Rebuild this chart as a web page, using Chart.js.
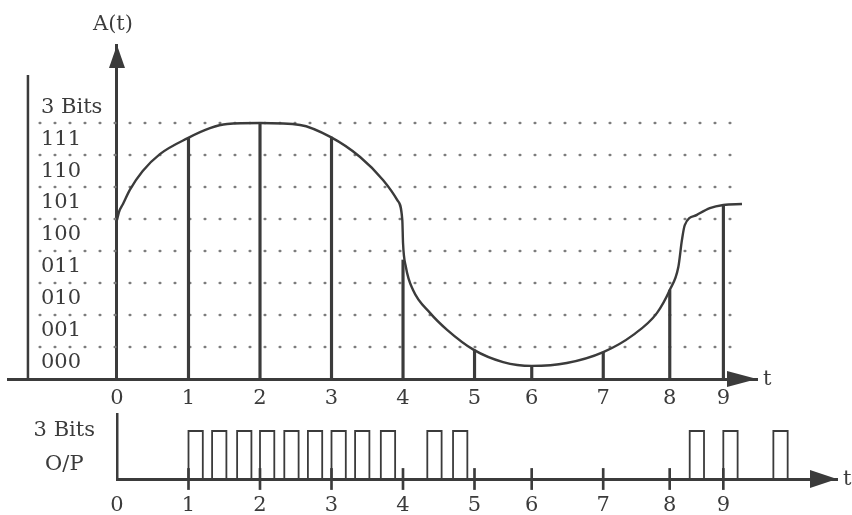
<!DOCTYPE html>
<html>
<head>
<meta charset="utf-8">
<title>3-bit PCM</title>
<script src="https://cdn.jsdelivr.net/npm/chart.js@4.4.1/dist/chart.umd.min.js"></script>
<style>
    html, body { margin: 0; padding: 0; background: #fff; }
    #wrap { position: relative; width: 852px; height: 515px; }
    #top { position: absolute; left: 0; top: 0; width: 852px; height: 420px; }
    #bottom { position: absolute; left: 0; top: 405px; width: 852px; height: 110px; }
</style>
</head>
<body>
<div id="wrap">
    <div id="top"><canvas id="signalChart"></canvas></div>
    <div id="bottom"><canvas id="pulseChart"></canvas></div>
</div>
<script>
// Sampling instants (t, as drawn in the figure) and their labels
const tickPos = [0, 1, 2, 3, 4, 5, 5.8, 6.8, 7.73, 8.48];
const tickLabels = ['0', '1', '2', '3', '4', '5', '6', '7', '8', '9'];

// Quantisation levels (dotted lines) and the codes written between them
const levels = [1, 2, 3, 4, 5, 6, 7, 8];
const codePos = [0.5, 1.5, 2.5, 3.5, 4.5, 5.5, 6.5, 7.5, 8.5];
const codeLabels = ['000', '001', '010', '011', '100', '101', '110', '111', '3 Bits'];

// Analog signal A(t)
const curveT = [0, 0.028, 0.084, 0.18, 0.36, 0.60, 0.99, 1.30, 1.54, 2.00, 2.56, 2.99, 3.40, 3.72, 3.92, 3.99, 4.00,
    4.04, 4.14, 4.38, 4.62, 4.99, 5.40, 5.80, 6.29, 6.80, 7.22, 7.55, 7.73, 7.85, 7.90, 7.94, 8.11, 8.29, 8.48, 8.74];
const curveA = [4.97, 5.22, 5.47, 5.91, 6.50, 7.03, 7.53, 7.84, 7.97, 8.00, 7.94, 7.56, 6.94, 6.22, 5.59, 4.97, 4.25,
    3.50, 2.78, 2.06, 1.53, 0.91, 0.53, 0.41, 0.50, 0.84, 1.38, 2.06, 2.78, 3.50, 4.34, 4.81, 5.13, 5.34, 5.44, 5.47];

// Sampled amplitudes at t = 1..9
const sampleT = tickPos.slice(1);
const sampleA = [7.53, 8.00, 7.56, 3.72, 0.91, 0.41, 0.84, 2.78, 5.44];

// 3 bit output: start time of every '1' pulse
const pulseStart = [1.0, 1.33, 1.68, 2.0, 2.34, 2.67, 3.0, 3.33, 3.69, 4.34, 4.7, 8.01, 8.48, 9.18];
const pulseWidth = 0.2;
const outLabelPos = [1, 0.3];
const outLabels = ['3 Bits', 'O/P'];

const ink = '#3b3b3b';
const dotColor = '#7c7c7c';
Chart.defaults.font.family = '"DejaVu Serif", serif';
Chart.defaults.font.size = 21;
Chart.defaults.color = ink;

// extents of the drawing, in axis units
const gridFrom = -1.08, gridTo = 8.71;
const leftBarT = -1.245, leftBarTop = 9.5;

// Arrow heads and axis names
const arrows = {
    id: 'arrows',
    afterDraw(chart, args, opts) {
        const ctx = chart.ctx, area = chart.chartArea;
        const y0 = chart.scales.y.getPixelForValue(0);
        const x0 = chart.scales.x.getPixelForValue(0);
        ctx.save();
        ctx.fillStyle = ink;
        ctx.beginPath();
        ctx.moveTo(area.right, y0);
        ctx.lineTo(area.right - opts.len, y0 - opts.half);
        ctx.lineTo(area.right - opts.len, y0 + opts.half);
        ctx.closePath();
        ctx.fill();
        ctx.font = '21px "DejaVu Serif"';
        ctx.textBaseline = 'middle';
        ctx.textAlign = 'left';
        ctx.fillText('t', area.right + 6, y0 + 1);
        if (opts.yTitle) {
            ctx.beginPath();
            ctx.moveTo(x0, area.top);
            ctx.lineTo(x0 - 8, area.top + 23);
            ctx.lineTo(x0 + 8, area.top + 23);
            ctx.closePath();
            ctx.fill();
            ctx.textAlign = 'center';
            ctx.fillText(opts.yTitle, x0 - 4, area.top - 20);
        }
        ctx.restore();
    }
};

// keep the label axis from eating into the plot height
function flatAxis(width) {
    return s => {
        s.width = width;
        s.paddingTop = 0;
        s.paddingBottom = 0;
    };
}

function lineSet(points, width, extra) {
    return Object.assign({
        type: 'line',
        data: points,
        borderColor: ink,
        borderWidth: width,
        pointRadius: 0,
        tension: 0,
        fill: false
    }, extra || {});
}

// Upper chart: A(t) with sample lines
const signalDatasets = [
    lineSet(curveT.map((t, i) => ({ x: t, y: curveA[i] })), 2.4, { cubicInterpolationMode: 'monotone' }),
    {
        type: 'bar',
        data: sampleT.map((t, i) => ({ x: t, y: sampleA[i] })),
        backgroundColor: ink,
        barThickness: 2.5
    },
    lineSet([{ x: leftBarT, y: 0 }, { x: leftBarT, y: leftBarTop }], 2.5)
];
levels.forEach(l => {
    signalDatasets.push(lineSet([{ x: gridFrom, y: l }, { x: gridTo, y: l }], 2.6, {
        borderColor: dotColor,
        borderDash: [0.5, 14.5],
        borderCapStyle: 'round'
    }));
});

new Chart(document.getElementById('signalChart'), {
    type: 'line',
    data: { datasets: signalDatasets },
    plugins: [arrows],
    options: {
        responsive: true,
        maintainAspectRatio: false,
        animation: false,
        layout: { padding: { left: 8, right: 95, top: 45, bottom: 41 } },
        plugins: {
            legend: { display: false },
            tooltip: { enabled: false },
            arrows: { len: 30, half: 8, yTitle: 'A(t)' }
        },
        scales: {
            x: {
                type: 'linear', min: -1.524, max: 8.95, offset: false,
                position: { y: 0 },
                afterBuildTicks: ax => { ax.ticks = tickPos.map(v => ({ value: v })); },
                ticks: { autoSkip: false, maxRotation: 0, padding: 7, callback: (v, i) => tickLabels[i] },
                grid: { display: false, drawTicks: false },
                border: { display: true, color: ink, width: 3 }
            },
            y: {
                type: 'linear', min: 0, max: 10.44, position: 'left',
                afterFit: flatAxis(0),
                afterBuildTicks: ax => { ax.ticks = codePos.map(v => ({ value: v })); },
                ticks: { mirror: true, padding: 33, autoSkip: false, callback: (v, i) => codeLabels[i] },
                grid: { display: false, drawTicks: false },
                border: { display: false }
            },
            yA: {
                axis: 'y', type: 'linear', position: { x: 0 },
                ticks: { display: false },
                grid: { display: false, drawTicks: false },
                border: { display: true, color: ink, width: 3 }
            }
        }
    }
});

// Lower chart: 3 bit output pulse train
const pulsePoints = [];
pulseStart.forEach(s => {
    pulsePoints.push({ x: s, y: 0 }, { x: s, y: 1 }, { x: s + pulseWidth, y: 1 }, { x: s + pulseWidth, y: 0 });
});

new Chart(document.getElementById('pulseChart'), {
    type: 'line',
    data: {
        datasets: [
            lineSet(pulsePoints, 1.8),
            {
                type: 'bar',
                data: tickPos.slice(1).map(t => ({ x: t, y: [-0.22, 0.22] })),
                backgroundColor: ink,
                barThickness: 2,
                clip: false
            }
        ]
    },
    plugins: [arrows],
    options: {
        responsive: true,
        maintainAspectRatio: false,
        animation: false,
        layout: { padding: { left: 0, right: 15, top: 9, bottom: 36 } },
        plugins: {
            legend: { display: false },
            tooltip: { enabled: false },
            arrows: { len: 27, half: 9 }
        },
        scales: {
            x: {
                type: 'linear', min: 0, max: 10.07, offset: false,
                position: { y: 0 },
                afterBuildTicks: ax => { ax.ticks = tickPos.map(v => ({ value: v })); },
                ticks: { autoSkip: false, maxRotation: 0, padding: 14, callback: (v, i) => tickLabels[i] },
                grid: { display: false, drawTicks: false },
                border: { display: true, color: ink, width: 3 }
            },
            y: {
                type: 'linear', min: 0, max: 1.354, position: 'left',
                afterFit: flatAxis(117),
                afterBuildTicks: ax => { ax.ticks = outLabelPos.map(v => ({ value: v })); },
                ticks: { crossAlign: 'center', padding: 22, autoSkip: false, callback: (v, i) => outLabels[i] },
                grid: { display: false, drawTicks: false },
                border: { display: true, color: ink, width: 2.5 }
            }
        }
    }
});
</script>
</body>
</html>
